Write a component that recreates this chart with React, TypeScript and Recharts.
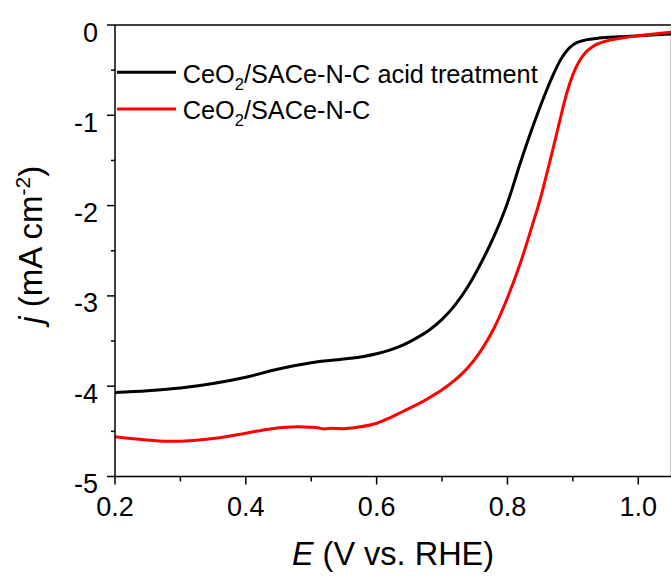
import { LineChart, Line, XAxis, YAxis, ReferenceLine, Legend } from 'recharts';

// potential (V vs. RHE) and current density (mA cm-2) for each sample
const acidE = [
  0.2, 0.25, 0.3, 0.35, 0.4, 0.45, 0.5, 0.55, 0.58, 0.6, 0.62, 0.64, 0.66, 0.68, 0.7, 0.72, 0.74, 0.76, 0.78,
  0.8, 0.82, 0.84, 0.86, 0.87, 0.88, 0.89, 0.9, 0.92, 0.94, 0.97, 1.0, 1.05,
];
const acidJ = [
  -4.07, -4.05, -4.02, -3.97, -3.9, -3.81, -3.74, -3.7, -3.67, -3.64, -3.6, -3.545, -3.47, -3.38, -3.26, -3.1,
  -2.89, -2.63, -2.33, -1.97, -1.52, -1.1, -0.72, -0.55, -0.4, -0.29, -0.22, -0.165, -0.145, -0.13, -0.12, -0.1,
];

const pristineE = [
  0.2, 0.24, 0.28, 0.32, 0.36, 0.4, 0.44, 0.48, 0.5, 0.51, 0.52, 0.53, 0.55, 0.57, 0.6, 0.62, 0.64, 0.66, 0.68,
  0.7, 0.72, 0.74, 0.76, 0.78, 0.8, 0.82, 0.84, 0.85, 0.86, 0.87, 0.88, 0.89, 0.9, 0.91, 0.92, 0.93, 0.95, 0.97,
  1.0, 1.05,
];
const pristineJ = [
  -4.56, -4.59, -4.61, -4.6, -4.57, -4.52, -4.47, -4.45, -4.455, -4.46, -4.475, -4.465, -4.47, -4.455, -4.41,
  -4.35, -4.28, -4.21, -4.13, -4.04, -3.93, -3.79, -3.6, -3.35, -3.02, -2.63, -2.17, -1.93, -1.65, -1.36, -1.06,
  -0.77, -0.55, -0.4, -0.3, -0.24, -0.18, -0.15, -0.12, -0.08,
];

const xTicks = [0.2, 0.3, 0.4, 0.5, 0.6, 0.7, 0.8, 0.9, 1.0];
const yTicks = [-5, -4.5, -4, -3.5, -3, -2.5, -2, -1.5, -1, -0.5, 0];

const seriesNames = ['CeO2/SACe-N-C acid treatment', 'CeO2/SACe-N-C'];
const seriesColors = ['#000000', '#ff0000'];

const FONT = '"Liberation Sans", Arial, sans-serif';

const toPoints = (es: number[], js: number[]) => es.map((e, i) => ({ E: e, j: js[i] }));

const isMajorX = (v: number) => Math.abs(v * 5 - Math.round(v * 5)) < 1e-6;

function XTick({ x, y, payload }: any) {
  const v = payload.value;
  const major = isMajorX(v);
  return (
    <g>
      <line x1={x} x2={x} y1={y} y2={y + (major ? 8 : 5)} stroke="#000" strokeWidth={1.5} />
      {major && (
        <text x={x} y={y + 39.5} textAnchor="middle" fontSize={27} fontFamily={FONT} fill="#000">
          {v.toFixed(1)}
        </text>
      )}
    </g>
  );
}

function YTick({ x, y, payload }: any) {
  const v = payload.value;
  const major = Number.isInteger(v);
  return (
    <g>
      <line x1={x - (major ? 8 : 4)} x2={x} y1={y} y2={y} stroke="#000" strokeWidth={1.5} />
      {major && (
        <text x={x - 17} y={y + 16.5} textAnchor="end" fontSize={27} fontFamily={FONT} fill="#000">
          {String(v)}
        </text>
      )}
    </g>
  );
}

// "CeO2" with a subscript 2
function Formula({ name }: { name: string }) {
  const rest = name.replace('CeO2', '');
  return (
    <>
      CeO<tspan fontSize={16.5} dy={7}>2</tspan>
      <tspan dy={-7}>{rest}</tspan>
    </>
  );
}

function LegendBox() {
  return (
    <svg width={480} height={80} style={{ display: 'block', overflow: 'visible' }}>
      {seriesNames.map((name, i) => (
        <g key={name}>
          <line x1={0} x2={59} y1={17.3 + i * 36.7} y2={17.3 + i * 36.7} stroke={seriesColors[i]} strokeWidth={3} />
          <text x={65.7} y={27.5 + i * 36.7} fontSize={25.3} fontFamily={FONT} fill="#000">
            <Formula name={name} />
          </text>
        </g>
      ))}
    </svg>
  );
}

export default function App() {
  return (
    <div style={{ position: 'absolute', left: 0, top: 0, background: '#fff' }}>
      <LineChart width={671} height={576} margin={{ top: 25, right: 0, left: 0, bottom: 0 }}>
        <XAxis
          dataKey="E"
          type="number"
          domain={[0.2, 1.05]}
          ticks={xTicks}
          interval={0}
          allowDataOverflow
          height={99.5}
          tickSize={0}
          tickMargin={0}
          tickLine={false}
          tick={<XTick />}
          axisLine={{ stroke: '#000', strokeWidth: 1.5 }}
          label={{
            content: ({ viewBox }: any) => (
              <text
                x={viewBox.x + viewBox.width / 2}
                y={viewBox.y + 88.5}
                textAnchor="middle"
                fontSize={32.5}
                fontFamily={FONT}
                fill="#000"
              >
                <tspan fontStyle="italic">E</tspan> (V vs. RHE)
              </text>
            ),
          }}
        />
        <YAxis
          type="number"
          domain={[-5, 0]}
          ticks={yTicks}
          interval={0}
          allowDataOverflow
          width={115}
          tickSize={0}
          tickMargin={0}
          tickLine={false}
          tick={<YTick />}
          axisLine={{ stroke: '#000', strokeWidth: 1.5 }}
          label={{
            content: ({ viewBox }: any) => {
              const cx = 42;
              const cy = viewBox.y + viewBox.height / 2 - 6;
              return (
                <text
                  x={cx}
                  y={cy}
                  transform={`rotate(-90 ${cx} ${cy})`}
                  textAnchor="middle"
                  fontSize={33}
                  fontFamily={FONT}
                  fill="#000"
                >
                  <tspan fontStyle="italic">j</tspan> (mA cm
                  <tspan fontSize={21} dy={-12}>-2</tspan>
                  <tspan dy={12}>)</tspan>
                </text>
              );
            },
          }}
        />
        <ReferenceLine y={0} stroke="#000" strokeWidth={1.5} />
        <ReferenceLine x={1.05} stroke="#999" strokeWidth={1} />
        <Legend
          layout="vertical"
          align="center"
          verticalAlign="middle"
          wrapperStyle={{ position: 'absolute', left: 117, top: 55, width: 480, height: 80 }}
          content={() => <LegendBox />}
        />
        <Line
          data={toPoints(acidE, acidJ)}
          dataKey="j"
          name={seriesNames[0]}
          type="monotone"
          stroke={seriesColors[0]}
          strokeWidth={3}
          dot={false}
          isAnimationActive={false}
        />
        <Line
          data={toPoints(pristineE, pristineJ)}
          dataKey="j"
          name={seriesNames[1]}
          type="monotone"
          stroke={seriesColors[1]}
          strokeWidth={3}
          dot={false}
          isAnimationActive={false}
        />
      </LineChart>
    </div>
  );
}
